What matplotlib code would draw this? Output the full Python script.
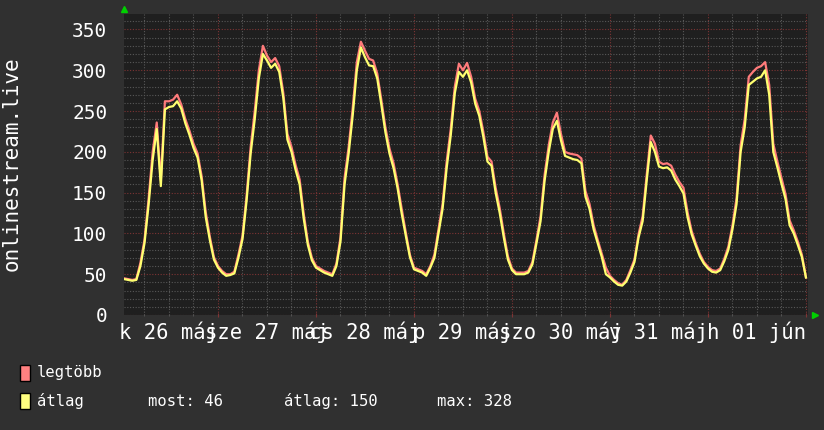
#!/bin/python3
# onlinestream.live - 7 day graph (rrdtool look)

import numpy as np
import matplotlib
matplotlib.use('Agg')
import matplotlib.pyplot as plt
from matplotlib.patches import Rectangle

# hourly samples, hour 1 = 2015-05-26 01:00
avg_day1 = [44, 43, 42, 43, 60, 88, 135, 190, 228, 158, 252, 255, 256, 262, 253, 235, 221, 205, 193, 165, 120, 92, 68, 58]
avg_day2 = [52, 48, 49, 51, 70, 93, 140, 198, 240, 290, 320, 312, 303, 308, 298, 266, 215, 200, 178, 160, 118, 86, 67, 58]
avg_day3 = [55, 52, 50, 48, 60, 90, 160, 198, 245, 300, 328, 316, 306, 305, 290, 258, 224, 198, 180, 155, 124, 97, 71, 56]
avg_day4 = [54, 52, 48, 58, 70, 100, 130, 180, 220, 272, 298, 292, 300, 285, 259, 244, 218, 188, 183, 150, 125, 95, 68, 55]
avg_day5 = [50, 50, 50, 52, 62, 88, 115, 165, 200, 228, 238, 214, 195, 193, 191, 190, 186, 145, 130, 105, 88, 71, 50, 46]
avg_day6 = [41, 37, 36, 41, 52, 65, 95, 115, 165, 212, 200, 182, 180, 181, 177, 166, 158, 149, 120, 99, 85, 72, 63, 57]
avg_day7 = [53, 52, 55, 66, 80, 105, 136, 200, 230, 282, 286, 290, 292, 300, 270, 200, 181, 161, 142, 110, 100, 86, 71, 46]

max_day1 = [45, 44, 43, 44, 64, 92, 142, 200, 236, 165, 262, 262, 264, 270, 258, 240, 226, 210, 198, 170, 126, 96, 71, 60]
max_day2 = [54, 50, 50, 53, 74, 97, 146, 206, 250, 300, 330, 318, 310, 315, 305, 272, 222, 206, 184, 166, 124, 90, 70, 60]
max_day3 = [57, 54, 52, 50, 63, 95, 168, 206, 254, 310, 335, 324, 314, 312, 296, 264, 230, 204, 186, 160, 130, 101, 74, 58]
max_day4 = [56, 54, 50, 60, 74, 105, 136, 188, 228, 280, 308, 300, 309, 292, 265, 250, 224, 194, 188, 156, 131, 100, 72, 57]
max_day5 = [52, 52, 52, 54, 65, 92, 121, 172, 208, 236, 248, 222, 200, 198, 197, 196, 192, 152, 136, 110, 92, 75, 58, 48]
max_day6 = [43, 39, 37, 43, 55, 68, 99, 121, 172, 220, 210, 188, 185, 186, 183, 172, 163, 156, 126, 103, 88, 75, 65, 59]
max_day7 = [55, 54, 57, 69, 84, 110, 143, 208, 240, 292, 298, 303, 305, 310, 282, 210, 188, 168, 148, 116, 104, 90, 74, 46]

day_labels = ['k 26 máj', 'sze 27 máj', 'cs 28 máj', 'p 29 máj', 'szo 30 máj', 'v 31 máj', 'h 01 jún']
y_ticks = [0, 50, 100, 150, 200, 250, 300, 350]
legend_stats = ['most: 46', 'átlag: 150', 'max: 328']

avg = avg_day1 + avg_day2 + avg_day3 + avg_day4 + avg_day5 + avg_day6 + avg_day7
peak = max_day1 + max_day2 + max_day3 + max_day4 + max_day5 + max_day6 + max_day7
hours = np.arange(1, len(avg) + 1)

BACK = '#303030'
CANVAS = '#1f1f1f'
RED = '#ff7b7b'
YEL = '#ffff70'
MAJ = '#7d3434'
MIN = '#585858'
MONO = ['DejaVu Sans Mono']

fig = plt.figure(figsize=(8.24, 4.30), dpi=100, facecolor=BACK)
W, H = 824.0, 430.0
ax = fig.add_axes([124 / W, 1 - 315 / H, 684 / W, 301 / H], facecolor=CANVAS)

ax.set_xlim(0.98, 168.5)
ax.set_ylim(0, 369)

# grid
ax.set_xticks(np.arange(24, 169, 24))
ax.set_xticks(np.arange(6, 169, 6), minor=True)
ax.set_yticks(y_ticks)
ax.set_yticks(np.arange(0, 370, 10), minor=True)
ax.grid(which='minor', color=MIN, linestyle=(0, (1, 1.5)), linewidth=0.8)
ax.grid(which='major', color=MAJ, linestyle=(0, (1, 1.5)), linewidth=0.8)
ax.set_axisbelow(True)
ax.set_xticklabels([])
ax.set_yticklabels([str(v) for v in y_ticks], family=MONO, fontsize=14, color='white')
ax.tick_params(axis='y', which='both', length=0, pad=12)
ax.tick_params(axis='x', which='major', length=3, color=MAJ, direction='inout')
ax.tick_params(axis='x', which='minor', length=2, color=MIN, direction='inout')
for s in ax.spines.values():
    s.set_visible(False)

ax.plot(hours, peak, color=RED, lw=1.6)
ax.plot(hours, avg, color=YEL, lw=1.6)

# day labels centred on noon
for i, lab in enumerate(day_labels):
    ax.text(12 + 24 * i, -0.02, lab, transform=ax.get_xaxis_transform(),
            ha='center', va='top', family=MONO, fontsize=14.8, color='white')

# little green arrows
ax.plot([0], [1.018], marker='^', color='#00d000', markersize=5, transform=ax.transAxes, clip_on=False)
ax.plot([1.01], [0], marker='>', color='#00d000', markersize=5, transform=ax.transAxes, clip_on=False)

fig.text(12 / W, 1 - 164 / H, 'onlinestream.live', rotation=90, ha='center', va='center',
         family=MONO, fontsize=15, color='white')

# legend
fig.add_artist(Rectangle((20 / W, 1 - 381 / H), 10 / W, 16 / H, transform=fig.transFigure,
                         facecolor='#ff8080', edgecolor='black', lw=1))
fig.add_artist(Rectangle((20 / W, 1 - 409 / H), 10 / W, 16 / H, transform=fig.transFigure,
                         facecolor='#ffff80', edgecolor='black', lw=1))
fig.text(37 / W, 1 - 373 / H, 'legtöbb', va='center', family=MONO, fontsize=11.2, color='white')
fig.text(37 / W, 1 - 401 / H, 'átlag', va='center', family=MONO, fontsize=11.2, color='white')
for xpos, txt in zip([148, 284, 437], legend_stats):
    fig.text(xpos / W, 1 - 401 / H, txt, va='center', family=MONO, fontsize=11.2, color='white')

fig.savefig('out.png', dpi=100, facecolor=BACK)
